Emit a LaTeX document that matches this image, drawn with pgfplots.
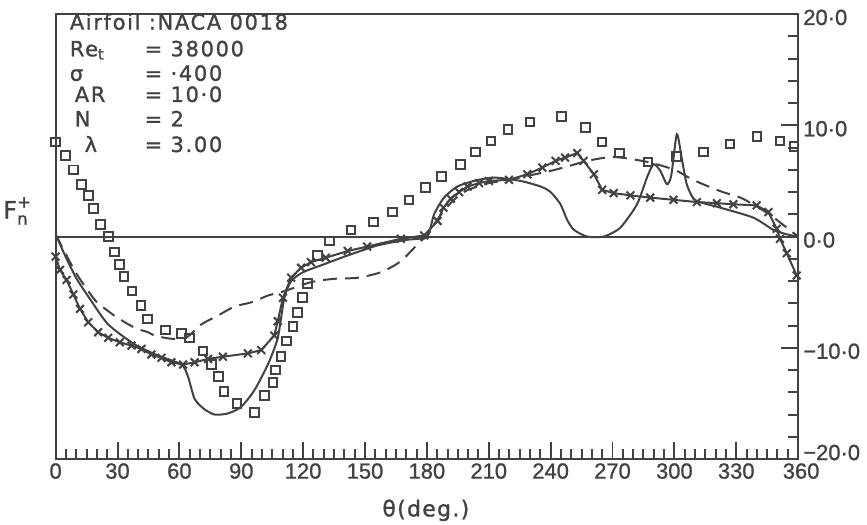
\documentclass[border=0pt]{standalone}
\usepackage{fontspec}
\usepackage{amsmath}
\setmainfont{Liberation Sans}
\newfontfamily\boxfont[FakeBold=1.2]{DejaVu Sans}
\usepackage{pgfplots}
\pgfplotsset{compat=1.18}
\definecolor{ink}{HTML}{424242}

\begin{document}
\begin{tikzpicture}
\begin{axis}[
    scale only axis, width=744pt, height=446pt,
    xmin=0, xmax=360, ymin=-20, ymax=20,
    axis line style={ink, line width=2pt},
    xtick={0,30,...,360}, minor x tick num=5,
    xticklabels={0,30,60,90,120,150,180,210,240,270,300,330,\hspace{6pt}360},
    ytick={-20,-10,0,10,20}, minor y tick num=4,
    yticklabels={\raisebox{10pt}{−20·0},−10·0,0·0,10·0,20·0},
    xtick pos=left, ytick pos=right, yticklabel pos=right,
    tick align=inside,
    major tick length=17pt, minor tick length=10pt,
    every tick/.style={ink, line width=2pt},
    every tick label/.append style={font=\fontsize{22}{24}\selectfont\addfontfeature{FakeBold=1}, text=ink},
    xticklabel style={yshift=-2pt, inner sep=2pt},
    yticklabel style={anchor=base west, yshift=-11pt, xshift=4pt, inner sep=1pt},
    clip=false,
]
% page frame
\path (axis cs:-26.1,-25.9) rectangle (axis cs:393.4,21.26);

% zero line
\addplot[ink, line width=2pt] coordinates {(0,0) (360,0)};

% experiment (squares)
\addplot[only marks, mark=square, mark size=4.3pt, ink, mark options={line width=2pt}] coordinates {
(0,8.5)(4.8,7.3)(8.7,6.0)(12.6,4.7)(16,3.7)(18.4,2.5)(21.8,1.1)(25.6,0)(28.4,-1.4)
(31.1,-2.5)(33.2,-3.6)(37.1,-4.9)(41.3,-6.2)(44.5,-7.4)(53.4,-8.4)(61,-8.7)(65,-9.1)
(71.5,-10.3)(75.5,-11.5)(79,-12.6)(81.6,-13.9)(88,-15.0)(96.4,-15.8)(101.3,-14.3)
(105.3,-13.1)(106.6,-12.0)(109.3,-10.8)(111.8,-9.4)(115,-8.1)(117.4,-6.8)(119.8,-5.5)
(122.2,-4.2)(127,-1.7)(132.7,-0.4)(143.2,0.6)(154.2,1.3)(163.4,2.2)(171.4,3.3)
(179.3,4.4)(187,5.4)(196.4,6.5)(203.7,7.6)(211,8.6)(219.3,9.6)(230,10.3)(245.3,10.8)
(256.8,9.8)(265,8.5)(273.5,7.5)(287.2,6.7)(301,7.2)(314.1,7.6)(327,8.3)(340,9.0)
(351.2,8.6)(358,8.1)
};

% solid line
\addplot[ink, line width=2pt, smooth, tension=0.4] coordinates {
(0,0.2)(5.3,-2.0)(10.2,-3.8)(16.6,-5.6)(25.5,-7.9)(38.4,-9.7)(49.7,-10.7)(61,-11.5)
(64.2,-12.6)(67.4,-14.6)(72,-15.5)(77.1,-16.0)(83.5,-15.9)(90,-15.3)(96.4,-13.8)
(102.9,-11.5)(107.7,-9.1)(110.9,-5.5)(114.2,-4.0)(120,-3.2)(130,-2.5)(141.6,-1.7)
(156,-0.8)(170,-0.3)(180,0)(183.5,2.0)(188.3,3.5)(194.8,4.5)(202.9,5.0)(212.6,5.3)
(225.4,5.0)(235.1,4.5)(240,4.0)(244.8,2.9)(248,1.5)(251.3,0.6)(257.7,0)(265.8,0)
(273.8,0.8)(281.9,2.9)(286.7,5.3)(289.9,6.5)(293.2,5.9)(296.4,4.7)(298.5,5.5)
(301.2,9.2)(303.6,7.0)(306,4.7)(309.3,3.4)(314.1,3.0)(322.2,2.6)(338.3,1.7)
(348,0.6)(354.5,0.2)(360,0)
};

% line with crosses
\addplot[ink, line width=2pt, mark=x, mark size=5.5pt] coordinates {
(0,-1.8)(2.1,-3.0)(5.3,-3.9)(8.6,-5.2)(11.8,-6.5)(15.8,-7.7)(20.6,-8.6)(25.5,-9.1)
(31.1,-9.5)(36.8,-9.8)(41.6,-10.1)(46.4,-10.6)(51.3,-10.9)(56.1,-11.3)(61.8,-11.5)
(67.4,-11.3)(73.9,-11.0)(81.1,-10.8)(93.2,-10.5)(99.7,-10.2)(106,-8.9)(107.7,-7.6)
(110.2,-5.5)(114.2,-3.7)(119,-2.8)(123.8,-2.3)(131,-1.9)(141.6,-1.3)(151,-0.9)
(167.4,-0.2)(178.7,0.1)(185.2,1.4)(188,2.6)(191.6,3.4)(195.6,4.0)(199.7,4.5)
(205.3,4.8)(210.1,5.0)(219.8,5.1)(228.7,5.6)(236,6.2)(242.4,6.8)(247,7.1)(252.9,7.5)
(256,6.8)(261,5.6)(265,4.2)(270.6,3.9)(278.7,3.7)(288.3,3.5)(299.6,3.3)(310.9,3.1)
(320.6,3.0)(328.6,2.9)(339.9,2.8)(345.6,2.2)(349.6,0.7)(351.2,-0.2)(354.5,-1.5)
(359.3,-3.5)
};

% dashed line
\addplot[ink, line width=2pt, smooth, tension=0.5, dash pattern=on 14pt off 8pt] coordinates {
(0,0.2)(5,-1.6)(10,-3.3)(15.8,-4.9)(20,-5.9)(25.5,-6.7)(30,-7.3)(38.4,-8.2)(44.8,-8.6)
(48,-8.9)(53,-9.1)(58,-9.2)(64,-9.0)(70.6,-7.9)(78.7,-7.1)(86.7,-6.3)(95,-5.9)
(103,-5.3)(111,-4.9)(123.8,-4.1)(135,-3.8)(146.4,-3.7)(157.7,-3.2)(167.4,-2.2)
(177,-0.4)(180,0)(185,1.5)(190,2.7)(195,3.6)(200,4.2)(210,4.8)(220,5.1)(230,5.5)
(240,5.9)(250,6.4)(257.7,6.8)(267,7.1)(274,7.1)(287,6.7)(300,6.0)(309,5.1)(322,4.1)
(332,3.5)(338,2.9)(346,2.0)(354.5,0.8)(360,0)
};

% labels
\node[text=ink, font=\fontsize{24}{26}\boxfont] at (axis cs:-18.5,2.3)
  {$\text{F}^{\text{+}}_{\text{n}}$};
\node[text=ink, font=\fontsize{22}{24}\boxfont\addfontfeature{LetterSpace=6}] at (axis cs:179.5,-24.6) {θ(deg.)};

\begin{scope}[every node/.style={anchor=base west, text=ink, inner sep=0pt,
    font=\fontsize{21}{24}\boxfont\addfontfeature{LetterSpace=8}}]
\node at (axis cs:6.8,18.6) {Airfoil :NACA 0018};
\node at (axis cs:6.8,16.2) {Re\textsubscript{t}};
\node at (axis cs:43.1,16.2) {= 38000};
\node at (axis cs:6.8,14.0) {σ};
\node at (axis cs:43.1,14.0) {= ·400};
\node at (axis cs:9.2,12.1) {AR};
\node at (axis cs:43.1,12.1) {= 10·0};
\node at (axis cs:9.2,9.9) {N};
\node at (axis cs:43.1,9.9) {= 2};
\node at (axis cs:14,7.6) {λ};
\node at (axis cs:43.1,7.6) {= 3.00};
\end{scope}
\end{axis}
\end{tikzpicture}
\end{document}
